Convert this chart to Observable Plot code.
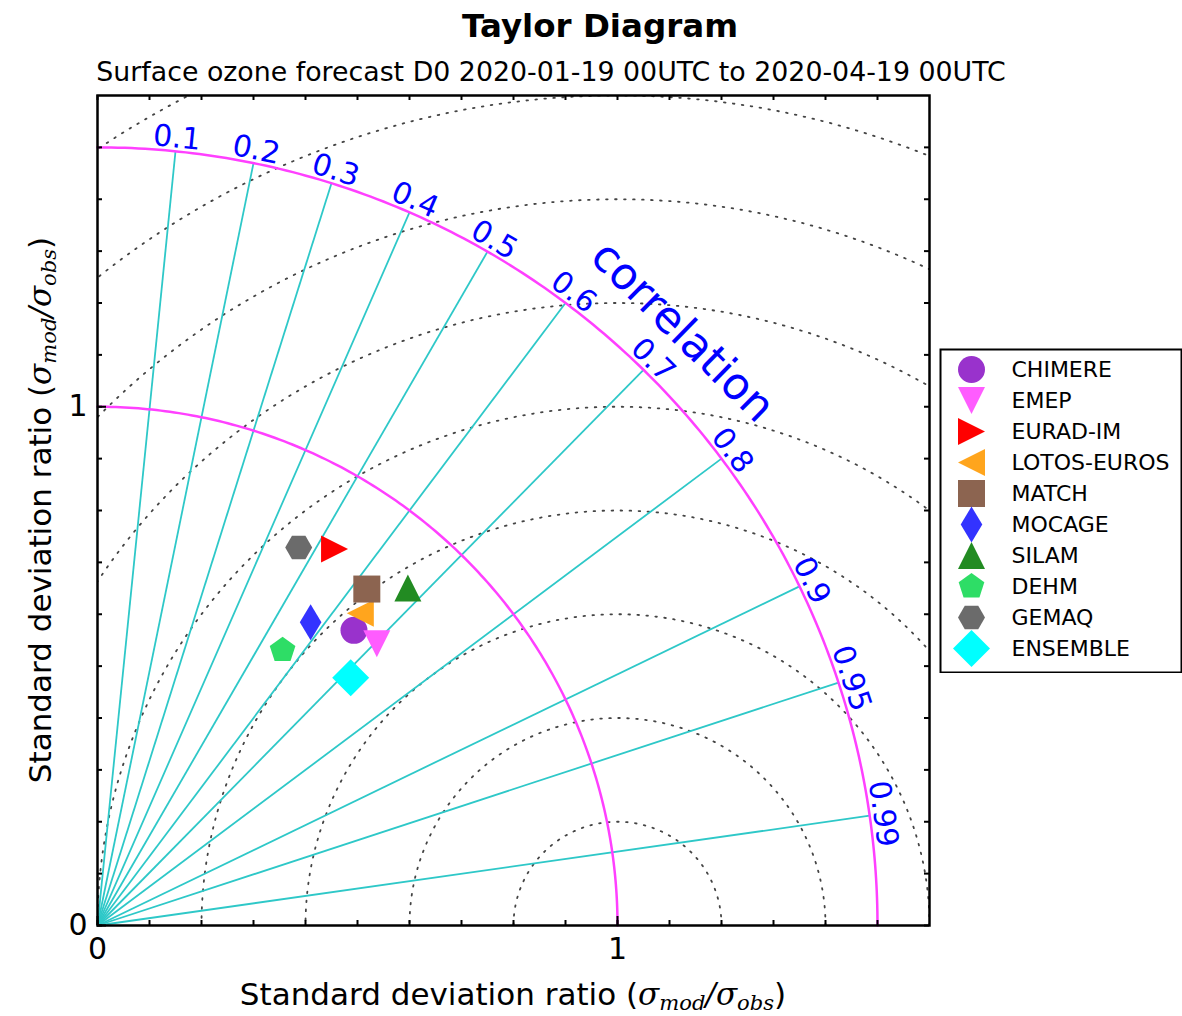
<!DOCTYPE html>
<html>
<head>
<meta charset="utf-8">
<script src="https://cdn.jsdelivr.net/npm/d3@7"></script>
<script src="https://cdn.jsdelivr.net/npm/@observablehq/plot@0.6"></script>
<style>
  body { margin: 0; background: #fff; }
  #wrap { position: relative; width: 1182px; height: 1016px; overflow: hidden; font-family: "DejaVu Sans", sans-serif; color: #000; background: #fff; }
  #wrap svg { position: absolute; }
  .abs { position: absolute; white-space: nowrap; line-height: 1; z-index: 2; }
  .m { font-family: "DejaVu Serif", serif; font-style: italic; }
  .m sub { font-size: 0.68em; vertical-align: -0.22em; line-height: 1; }
</style>
</head>
<body>
<div id="wrap">
  <div class="abs" style="left:600px;top:10px;font-size:32.5px;font-weight:bold;transform:translateX(-50%)">Taylor Diagram</div>
  <div class="abs" style="left:551px;top:59px;font-size:26.8px;transform:translateX(-50%)">Surface ozone forecast D0 2020-01-19 00UTC to 2020-04-19 00UTC</div>
  <div class="abs" style="left:513px;top:979px;font-size:31px;transform:translateX(-50%)">Standard deviation ratio (<span class="m">σ<sub>mod</sub>/σ<sub>obs</sub></span>)</div>
  <div class="abs" style="left:42px;top:510px;font-size:31px;transform:translate(-50%,-50%) rotate(-90deg)">Standard deviation ratio (<span class="m">σ<sub>mod</sub>/σ<sub>obs</sub></span>)</div>
</div>
<script>
// ---------- data ----------
const models = ["CHIMERE", "EMEP", "EURAD-IM", "LOTOS-EUROS", "MATCH", "MOCAGE", "SILAM", "DEHM", "GEMAQ", "ENSEMBLE"];
const stdRatio = [0.753, 0.764, 0.857, 0.786, 0.830, 0.714, 0.883, 0.639, 0.825, 0.682];
const correlation = [0.655, 0.703, 0.532, 0.643, 0.624, 0.574, 0.676, 0.557, 0.469, 0.714];
const colors = ["#9932cc", "#ff5cff", "#ff0000", "#ffa51d", "#8c6450", "#3333ff", "#228b22", "#2edd66", "#6b6b6b", "#00ffff"];
const symbolNames = ["circle", "triangleDown", "triangleRight", "triangleLeft", "square", "thinDiamond", "triangleUp", "pentagon", "hexagon", "diamond"];

const corrTicks = [0.1, 0.2, 0.3, 0.4, 0.5, 0.6, 0.7, 0.8, 0.9, 0.95, 0.99];
const corrTickLabels = ["0.1", "0.2", "0.3", "0.4", "0.5", "0.6", "0.7", "0.8", "0.9", "0.95", "0.99"];
const stdArcs = [1, 1.5];                                     // magenta std-ratio arcs
const rmsRadii = [0.2, 0.4, 0.6, 0.8, 1.0, 1.2, 1.4, 1.6, 1.8]; // dotted centred-RMS circles
const axisTicks = [0, 1];
const minorTicks = [0, 0.1, 0.2, 0.3, 0.4, 0.5, 0.6, 0.7, 0.8, 0.9, 1.0, 1.1, 1.2, 1.3, 1.4, 1.5];
const corrTitle = "correlation";

// ---------- geometry helpers ----------
const maxStd = 1.5;
const axisMax = 1.6;
const deg = Math.PI / 180;
const px = (s, r) => s * r;
const py = (s, r) => s * Math.sqrt(1 - r * r);

// custom marker shapes (size = area of circle of radius r)
const poly = (pts) => ({
  draw(ctx, size) {
    const r = Math.sqrt(size / Math.PI);
    pts.forEach(([a, b], i) => (i ? ctx.lineTo(a * r, b * r) : ctx.moveTo(a * r, b * r)));
    ctx.closePath();
  }
});
const ngon = (n, start) => d3.range(n).map(k => [Math.cos((start + k * 360 / n) * deg), Math.sin((start + k * 360 / n) * deg)]);
const SYM = {
  circle: "circle",
  triangleDown: poly([[-1, -1], [1, -1], [0, 1]]),
  triangleUp: poly([[-1, 1], [1, 1], [0, -1]]),
  triangleRight: poly([[-1, -1], [1, 0], [-1, 1]]),
  triangleLeft: poly([[1, -1], [-1, 0], [1, 1]]),
  square: poly([[-1, -1], [1, -1], [1, 1], [-1, 1]]),
  thinDiamond: poly([[0, -1.33], [0.8, 0], [0, 1.33], [-0.8, 0]]),
  diamond: poly([[0, -1.37], [1.37, 0], [0, 1.37], [-1.37, 0]]),
  pentagon: poly(ngon(5, -90)),
  hexagon: poly(ngon(6, 0))
};

// arcs
const arcPts = stdArcs.flatMap(R => d3.range(0, 90.01, 0.5).map(a => ({R, x: R * Math.cos(a * deg), y: R * Math.sin(a * deg)})));
const rmsPts = rmsRadii.flatMap(R => d3.range(0, 180.01, 0.25).map(a => ({R, x: 1 + R * Math.cos(a * deg), y: R * Math.sin(a * deg)})));

const mL = 97, mR = 253, mT = 95, mB = 91, W = 1182, H = 1016;
const FW = W - mL - mR, FH = H - mT - mB;
const minorLen = 5, majorLen = 9;
const labelR = maxStd + 0.026;
const titleR = 1.605, titleAngle = 45.5;

const idx = models.map((_, i) => i);

const chart = Plot.plot({
  width: W, height: H,
  marginLeft: mL, marginRight: mR, marginTop: mT, marginBottom: mB,
  x: {domain: [0, axisMax]},
  y: {domain: [0, axisMax]},
  style: {fontFamily: "'DejaVu Sans', sans-serif", fontSize: "30px", background: "transparent", color: "#000"},
  marks: [
    Plot.line(rmsPts, {x: "x", y: "y", z: "R", stroke: "#444", strokeWidth: 1.8, strokeDasharray: "1.6,7.4", clip: true}),
    Plot.link(corrTicks, {x1: 0, y1: 0, x2: r => px(maxStd, r), y2: r => py(maxStd, r), stroke: "#2ec8c8", strokeWidth: 1.8}),
    Plot.line(arcPts, {x: "x", y: "y", z: "R", stroke: "#ff40ff", strokeWidth: 2.5}),
    Plot.text(corrTicks, {
      x: r => px(labelR, r), y: r => py(labelR, r),
      text: (r, i) => corrTickLabels[i],
      rotate: r => 90 - Math.acos(r) / deg,
      fill: "#0000ff", fontSize: 30
    }),
    Plot.text([corrTitle], {
      x: () => titleR * Math.cos(titleAngle * deg), y: () => titleR * Math.sin(titleAngle * deg),
      text: d => d, rotate: 90 - titleAngle, fill: "#0000ff", fontSize: 44
    }),
    // data markers
    ...idx.map(i => Plot.dot([i], {
      x: j => px(stdRatio[j], correlation[j]),
      y: j => py(stdRatio[j], correlation[j]),
      symbol: SYM[symbolNames[i]], fill: colors[i], stroke: "none", r: 13.5
    })),
    // frame + ticks
    Plot.tickX(minorTicks, {x: d => d, insetTop: FH - minorLen, stroke: "#000", strokeWidth: 2}),
    Plot.tickX(minorTicks, {x: d => d, insetBottom: FH - minorLen, stroke: "#000", strokeWidth: 2}),
    Plot.tickY(minorTicks, {y: d => d, insetRight: FW - minorLen, stroke: "#000", strokeWidth: 2}),
    Plot.tickY(minorTicks, {y: d => d, insetLeft: FW - minorLen, stroke: "#000", strokeWidth: 2}),
    Plot.tickX(axisTicks, {x: d => d, insetTop: FH - majorLen, stroke: "#000", strokeWidth: 2}),
    Plot.tickY(axisTicks, {y: d => d, insetRight: FW - majorLen, stroke: "#000", strokeWidth: 2}),
    Plot.frame({stroke: "#000", strokeWidth: 2.5}),
    Plot.axisX({ticks: axisTicks, tickSize: 0, tickPadding: 12, tickFormat: d3.format("d"), fontSize: 30, label: null}),
    Plot.axisY({ticks: axisTicks, tickSize: 0, tickPadding: 10, tickFormat: d3.format("d"), fontSize: 30, label: null})
  ]
});
chart.style.left = "0px";
chart.style.top = "0px";
const wrap = document.getElementById("wrap");
wrap.insertBefore(chart, wrap.firstChild);

// legend
const legend = Plot.plot({
  width: 243, height: 325, margin: 0,
  y: {type: "point", domain: models, range: [18, 303], padding: 0, axis: null},
  style: {fontFamily: "'DejaVu Sans', sans-serif", background: "white", color: "#000"},
  marks: [
    Plot.frame({stroke: "#000", strokeWidth: 2, inset: 1}),
    ...idx.map(i => Plot.dot([models[i]], {
      y: d => d, frameAnchor: "left", dx: 32,
      symbol: SYM[symbolNames[i]], fill: colors[i], stroke: "none", r: 13.5
    })),
    Plot.text(models, {y: d => d, text: d => d, frameAnchor: "left", dx: 72, textAnchor: "start", fontSize: 22, fill: "#000"})
  ]
});
legend.style.left = "939px";
legend.style.top = "348px";
wrap.appendChild(legend);
</script>
</body>
</html>
